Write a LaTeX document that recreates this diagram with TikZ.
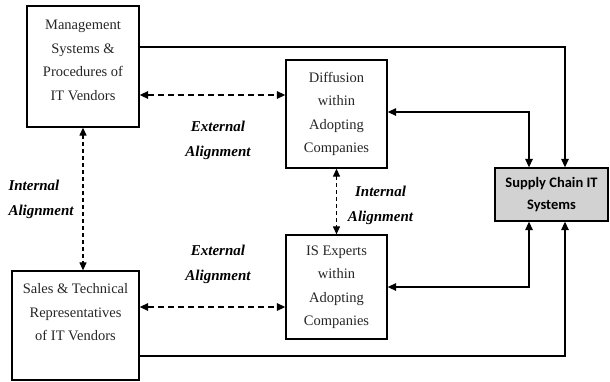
\documentclass[tikz,border=0pt]{standalone}
\usepackage{fontspec}
\setmainfont{Liberation Serif}
\newfontfamily\carlito{Carlito}
\usetikzlibrary{arrows.meta,calc}

\tikzset{
  boxnode/.style={draw, line width=1.3pt, align=center, inner sep=2pt,
    font=\fontsize{14.5}{23.5}\selectfont, text=black!85},
  sysnode/.style={draw, line width=1.3pt, fill=gray!35, align=center,
    font=\carlito\bfseries\fontsize{14.5}{22}\selectfont},
  labeltext/.style={align=center, font=\bfseries\itshape\fontsize{15}{25}\selectfont},
  solidlink/.style={line width=1.3pt, -{Triangle[length=8.5pt,width=7.5pt]}},
  bothlink/.style={line width=1.3pt, {Triangle[length=8.5pt,width=7.5pt]}-{Triangle[length=8.5pt,width=7.5pt]}},
  dashlink/.style={line width=1.6pt, dash pattern=on 6pt off 4pt,
    {Triangle[length=8.5pt,width=7.5pt]}-{Triangle[length=8.5pt,width=7.5pt]}},
  vdashlink/.style={line width=1.2pt, dash pattern=on 4pt off 3pt,
    {Triangle[length=8pt,width=7pt]}-{Triangle[length=8pt,width=7pt]}}
}

\begin{document}
\begin{tikzpicture}[x=1pt,y=-1pt]
\useasboundingbox (0,0) rectangle (610,381);

\node[boxnode, minimum width=112pt, minimum height=121pt, text depth=13pt] (mgmt) at (83,66.5)
  {Management\\Systems \&\\Procedures of\\IT Vendors};
\node[boxnode, minimum width=127pt, minimum height=109pt, text depth=27pt] (sales) at (75.5,325.5)
  {Sales \& Technical\\Representatives\\of IT Vendors};
\node[boxnode, minimum width=101pt, minimum height=108pt] (diff) at (336.5,114)
  {Diffusion\\within\\Adopting\\Companies};
\node[boxnode, minimum width=101pt, minimum height=104pt] (isexp) at (336.5,287)
  {IS Experts\\within\\Adopting\\Companies};
\node[sysnode, minimum width=113pt, minimum height=53pt] (scit) at (551.5,194.5)
  {Supply Chain IT\\Systems};

\node[labeltext] (extA) at (218,140.5) {External\\Alignment};
\node[labeltext] (extB) at (218,264.5) {External\\Alignment};
\node[labeltext, align=left, anchor=west] (intA) at (5,199) {Internal\\Alignment};
\node[labeltext] (intB) at (380.5,205.5) {Internal\\Alignment};

\coordinate (mgmtout) at ([yshift=19.5pt]mgmt.east);
\coordinate (salesout) at ([yshift=-30.5pt]sales.east);
\coordinate (diffout) at ([yshift=2pt]diff.east);
\coordinate (mgmtext) at ([yshift=-28.5pt]mgmt.east);
\coordinate (salesext) at ([yshift=18.5pt]sales.east);

\draw[solidlink] (mgmtout) -| ([xshift=13.5pt]scit.north);
\draw[solidlink] (salesout) -| ([xshift=13.5pt]scit.south);
\draw[bothlink] (diffout) -| ([xshift=-22.5pt]scit.north);
\draw[bothlink] (isexp.east) -| ([xshift=-22.5pt]scit.south);

\draw[dashlink] (mgmtext) -- (mgmtext -| diff.west);
\draw[dashlink] (salesext) -- (salesext -| isexp.west);
\draw[vdashlink] (mgmt.south) -- (mgmt.south |- sales.north);
\draw[vdashlink] (diff.south) -- (isexp.north);

\end{tikzpicture}
\end{document}
